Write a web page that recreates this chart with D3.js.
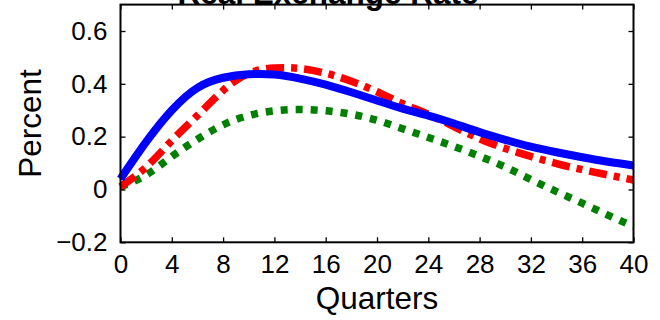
<!DOCTYPE html>
<html>
<head>
<meta charset="utf-8">
<script src="https://cdn.jsdelivr.net/npm/d3@7"></script>
<style>
  html, body { margin: 0; padding: 0; background: #fff; }
  svg { display: block; font-family: "Liberation Sans", Arial, sans-serif; }
</style>
</head>
<body>
<svg id="chart" width="660" height="320"></svg>
<script>
// ---- data ----
const quarters = [0,2,4,6,8,10,12,14,16,18,20,22,24,26,28,30,32,34,36,38,40];
const seriesBlue  = [0.04,0.18,0.30,0.385,0.423,0.436,0.435,0.42,0.397,0.368,0.337,0.306,0.280,0.250,0.217,0.188,0.162,0.141,0.122,0.105,0.091];
const seriesRed   = [0.01,0.085,0.185,0.28,0.375,0.44,0.46,0.458,0.44,0.41,0.37,0.325,0.285,0.238,0.192,0.155,0.125,0.098,0.075,0.055,0.036];
const seriesGreen = [0.01,0.055,0.125,0.19,0.245,0.28,0.298,0.303,0.298,0.285,0.262,0.23,0.197,0.163,0.126,0.085,0.038,-0.008,-0.052,-0.097,-0.14];
const xTicks = [0,4,8,12,16,20,24,28,32,36,40];
const yTicks = [-0.2,0,0.2,0.4,0.6];
const titleText = "Real Exchange Rate";
const xLabel = "Quarters";
const yLabel = "Percent";

// ---- layout ----
const L = 120.5, R = 633.5, T = 4.6, B = 242.3;
const svg = d3.select("#chart");
const x = d3.scaleLinear().domain([0, 40]).range([L, R]);
const y = d3.scaleLinear().domain([-0.2, 0.7]).range([B, T]);

const fmt = v => (v < 0 ? "\u2212" : "") + (v === 0 ? "0" : Math.abs(v).toFixed(1));

// lines
const line = d3.line().x(d => x(d[0])).y(d => y(d[1])).curve(d3.curveNatural);
const mk = arr => quarters.map((q, i) => [q, arr[i]]);

svg.append("path").datum(mk(seriesGreen))
  .attr("d", line).attr("fill", "none").attr("stroke", "#007f00")
  .attr("stroke-width", 7.5).attr("stroke-dasharray", "7,8");
svg.append("path").datum(mk(seriesRed))
  .attr("d", line).attr("fill", "none").attr("stroke", "#ff0000")
  .attr("stroke-width", 7.5).attr("stroke-dasharray", "18,7,6,7");
svg.append("path").datum(mk(seriesBlue))
  .attr("d", line).attr("fill", "none").attr("stroke", "#0000ff")
  .attr("stroke-width", 8);

// axes (ticks inward, box)
const tickLen = 5;
const gx = svg.append("g").attr("transform", `translate(0,${B})`)
  .call(d3.axisBottom(x).tickValues(xTicks).tickSizeInner(-tickLen).tickSizeOuter(0).tickPadding(12).tickFormat(d3.format("d")));
const gxTop = svg.append("g").attr("transform", `translate(0,${T})`)
  .call(d3.axisTop(x).tickValues(xTicks).tickSizeInner(-tickLen).tickSizeOuter(0).tickFormat(""));
const gy = svg.append("g").attr("transform", `translate(${L},0)`)
  .call(d3.axisLeft(y).tickValues(yTicks).tickSizeInner(-tickLen).tickSizeOuter(0).tickPadding(13).tickFormat(fmt));
const gyR = svg.append("g").attr("transform", `translate(${R},0)`)
  .call(d3.axisRight(y).tickValues(yTicks).tickSizeInner(-tickLen).tickSizeOuter(0).tickFormat(""));

[gx, gxTop, gy, gyR].forEach(g => {
  g.select(".domain").remove();
  g.selectAll(".tick line").attr("stroke", "#000").attr("stroke-width", 1.3);
  g.selectAll(".tick text").attr("fill", "#000").attr("font-size", 26)
    .attr("font-family", "Liberation Sans, Arial, sans-serif");
});
gx.selectAll(".tick text").attr("dy", "0.71em");

svg.append("rect").attr("x", L).attr("y", T).attr("width", R - L).attr("height", B - T)
  .attr("fill", "none").attr("stroke", "#000").attr("stroke-width", 2);

// labels
svg.append("text").attr("x", (L + R) / 2).attr("y", 309).attr("text-anchor", "middle")
  .attr("font-size", 31.5).attr("fill", "#000").text(xLabel);
svg.append("text").attr("transform", `translate(41,${(T + B) / 2}) rotate(-90)`)
  .attr("text-anchor", "middle").attr("font-size", 31.5).attr("fill", "#000").text(yLabel);
svg.append("text").attr("x", 328).attr("y", 4).attr("text-anchor", "middle")
  .attr("font-size", 31.5).attr("font-weight", "bold").attr("fill", "#000").text(titleText);
</script>
</body>
</html>
